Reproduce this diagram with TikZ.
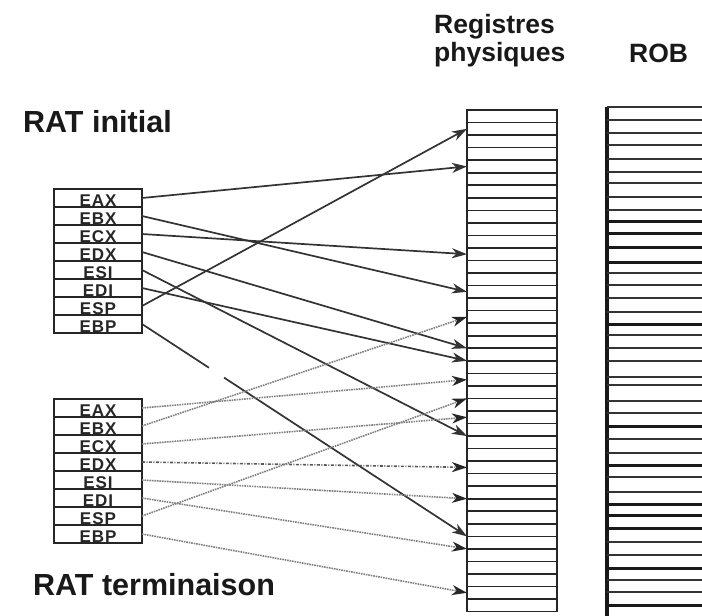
\documentclass[tikz,border=0pt]{standalone}
\usepackage{fontspec}
\setmainfont{Liberation Sans}
\newfontfamily\ratfont[LetterSpace=6]{Liberation Sans}
\usetikzlibrary{positioning,arrows.meta}

\begin{document}
\begin{tikzpicture}[
  x=1pt, y=-1pt,
  node distance=0pt,
  title/.style={font=\bfseries\fontsize{30.5}{30.5}\selectfont, text=black!90,
    inner sep=0pt, anchor=base west},
  head/.style={font=\bfseries\fontsize{26.5}{26.5}\selectfont, text=black!90,
    inner sep=0pt, anchor=base west},
  ratrow/.style={rectangle, draw=black!85, line width=2pt, outer sep=0pt,
    inner sep=0pt, minimum width=88pt, minimum height=18pt,
    text height=17.5pt, text depth=0pt, text=black!85,
    font=\ratfont\bfseries\fontsize{17}{17}\selectfont},
  regrow/.style={rectangle, draw=black!85, line width=1.6pt, outer sep=0pt,
    minimum width=90pt, minimum height=12.54pt},
  old/.style={-{Stealth[length=15pt,width=10pt,inset=4.5pt]},
    line width=1.7pt, draw=black!80},
  new/.style={-{Stealth[length=15pt,width=10pt,inset=4.5pt,color=black!85]},
    line width=1.6pt, draw=black!50, dash pattern=on 1.6pt off 0.9pt}
]
\useasboundingbox (0,0) rectangle (702,616);

% titres
\node[title] (ratinit) at (23,132) {RAT initial};
\node[title] (ratterm) at (33,595) {RAT terminaison};
\node[head] (regs1) at (434,33) {Registres};
\node[head] (regs2) at (434,61) {physiques};
\node[head] (rob) at (629,62) {ROB};

% RAT initial
\node[ratrow] (ieax) at (98,198) {EAX};
\node[ratrow, below=of ieax] (iebx) {EBX};
\node[ratrow, below=of iebx] (iecx) {ECX};
\node[ratrow, below=of iecx] (iedx) {EDX};
\node[ratrow, below=of iedx] (iesi) {ESI};
\node[ratrow, below=of iesi] (iedi) {EDI};
\node[ratrow, below=of iedi] (iesp) {ESP};
\node[ratrow, below=of iesp] (iebp) {EBP};

% RAT terminaison
\node[ratrow] (teax) at (98,408) {EAX};
\node[ratrow, below=of teax] (tebx) {EBX};
\node[ratrow, below=of tebx] (tecx) {ECX};
\node[ratrow, below=of tecx] (tedx) {EDX};
\node[ratrow, below=of tedx] (tesi) {ESI};
\node[ratrow, below=of tesi] (tedi) {EDI};
\node[ratrow, below=of tedi] (tesp) {ESP};
\node[ratrow, below=of tesp] (tebp) {EBP};

% registres physiques
\foreach \k in {0,...,39}
  \node[regrow] (r\k) at (512,{116.27+12.54*\k}) {};

% ROB
\draw[line width=3.5pt, black!90] (607,107) -- (607,616);
\foreach \yy in {107,120,133,145,159,172,183,197,210,273,285,298,312,335,
                 348,361,377,385,401,413,439,453,477,492,542,555,580,592}
  \draw[line width=1.5pt, black!80] (607,\yy) -- (702,\yy);
\foreach \yy in {221,233,247,262,324,426,465,504,515,528,568,605}
  \draw[line width=3pt, black!90] (607,\yy) -- (702,\yy);

% RAT initial -> registres
\draw[old] (ieax.east) -- (r4.west);
\draw[old] (iebx.east) -- (r14.west);
\draw[old] (iecx.east) -- (r11.west);
\draw[old] (iedx.east) -- (r18.south west);
\draw[old] (iesi.east) -- (r26.north west);
\draw[old] (iedi.east) -- (r19.south west);
\draw[old] (iesp.east) -- (r1.west);
\draw[old, dash pattern=on 80pt off 18pt on 400pt] (iebp.east) -- (r34.north west);

% RAT terminaison -> registres
\draw[new] (teax.east) -- (r21.west);
\draw[new] (tebx.east) -- (r16.west);
\draw[new] (tecx.east) -- (r24.west);
\draw[new, draw=black!65, dash pattern=on 3pt off 1.5pt on 1pt off 1.5pt] (tedx.east) -- (r28.west);
\draw[new] (tesi.east) -- (r31.north west);
\draw[new] (tedi.east) -- (r35.north west);
\draw[new] (tesp.east) -- (r23.north west);
\draw[new] (tebp.east) -- (r38.west);
\end{tikzpicture}
\end{document}
